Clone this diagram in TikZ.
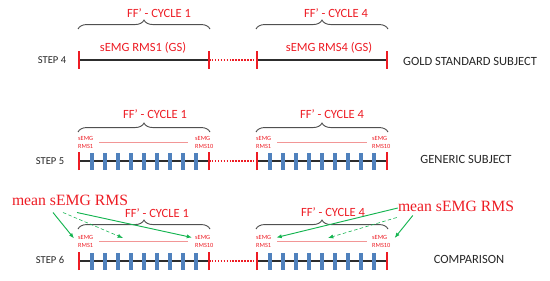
\documentclass[tikz,border=0pt]{standalone}
\usepackage{fontspec}
\setmainfont{Carlito}
\newfontfamily\meanfont{Liberation Serif}
\usepackage{xcolor}
\usepackage{tikz}
\usetikzlibrary{arrows.meta, positioning, calc, decorations.pathreplacing}
\definecolor{MarkRed}{RGB}{237, 28, 36}
\definecolor{TickBlue}{RGB}{79, 129, 189}
\definecolor{AxisGray}{RGB}{45, 45, 45}
\definecolor{BraceGray}{RGB}{80, 80, 80}
\definecolor{ThinPink}{RGB}{242, 150, 150}
\definecolor{ArrowGreen}{RGB}{20, 180, 80}

\begin{document}
\begin{tikzpicture}[
        x=0.3mm, y=0.3mm,
        >={Latex[length=4.5pt, width=3.5pt]},
        steplabel/.style={font=\fontsize{9}{10}\selectfont, text=black!85},
        subject/.style={font=\fontsize{10.7}{12}\selectfont, text=black!85},
        cycle/.style={font=\fontsize{10.7}{12}\selectfont, text=MarkRed},
        gslabel/.style={font=\fontsize{10.7}{12}\selectfont, text=MarkRed},
        rmslabel/.style={font=\fontsize{5.4}{6.4}\selectfont, text=MarkRed, align=left, inner sep=0pt},
        meanlabel/.style={font=\meanfont\fontsize{13.4}{15}\selectfont, text=MarkRed, inner sep=0pt},
        axis/.style={AxisGray, line width=1.6pt},
        gap/.style={MarkRed, line width=1.3pt, dash pattern=on 1.3pt off 1.2pt},
        redtick/.style={MarkRed, line width=1.7pt},
        bluetick/.style={TickBlue, line width=3pt},
        thinline/.style={ThinPink, line width=0.5pt},
        cyclebrace/.style={BraceGray, line width=0.8pt, decorate, decoration={brace, amplitude=7.6pt}},
        pointer/.style={->, ArrowGreen, line width=0.8pt},
        weakpointer/.style={pointer, line width=0.5pt, densely dashed}
    ]

    \useasboundingbox (0, 0) rectangle (550, 280);

    % Step labels
    \node[steplabel] (step4) at (52, 220) {STEP 4};
    \node[steplabel] (step5) at (50, 119) {STEP 5};
    \node[steplabel] (step6) at (50, 20) {STEP 6};

    % Subject labels
    \node[subject] (gold) at (470, 219) {GOLD STANDARD SUBJECT};
    \node[subject] (generic) at (466, 121) {GENERIC SUBJECT};
    \node[subject] (compare) at (469, 21) {COMPARISON};

    % Time lines (ends a-b = cycle 1, c-d = cycle 4)
    \foreach \r/\y in {4/220, 5/119, 6/19} {
        \coordinate (a\r) at (79, \y);
        \coordinate (b\r) at (209, \y);
        \coordinate (c\r) at (257, \y);
        \coordinate (d\r) at (387, \y);
        \draw[axis] (a\r) -- (b\r);
        \draw[axis] (c\r) -- (d\r);
        \draw[gap] (b\r) -- (c\r);
    }

    % Blue ticks (RMS windows)
    \foreach \r in {5, 6} {
        \foreach \i in {1, ..., 9} {
            \draw[bluetick] ($(a\r) + (13*\i, -8.5)$) -- ++(0, 17);
            \draw[bluetick] ($(c\r) + (13*\i, -8.5)$) -- ++(0, 17);
        }
    }

    % Red ticks (cycle limits)
    \foreach \r in {4, 5, 6} {
        \foreach \p in {a, b, c, d} {
            \draw[redtick] ($(\p\r) + (0, -9)$) -- ++(0, 18);
        }
    }

    % Braces
    \draw[cyclebrace] (78, 251) -- (210, 251);
    \draw[cyclebrace] (256, 251) -- (388, 251);
    \draw[cyclebrace] (78, 148) -- (210, 148);
    \draw[cyclebrace] (256, 148) -- (388, 148);
    \draw[cyclebrace] (78, 51) -- (210, 51);
    \draw[cyclebrace] (256, 51) -- (388, 51);

    % Cycle labels
    \node[cycle] (cyc4a) at (159, 267) {FF’ - CYCLE 1};
    \node[cycle] (cyc4b) at (336, 267) {FF’ - CYCLE 4};
    \node[cycle] (cyc5a) at (155, 166) {FF’ - CYCLE 1};
    \node[cycle] (cyc5b) at (332, 166) {FF’ - CYCLE 4};
    \node[cycle] (cyc6a) at (157, 67) {FF’ - CYCLE 1};
    \node[cycle] (cyc6b) at (333, 68) {FF’ - CYCLE 4};

    % Gold standard RMS
    \node[gslabel] (gs1) at (143, 232) {sEMG RMS1 (GS)};
    \node[gslabel] (gs4) at (329, 232) {sEMG RMS4 (GS)};

    % Small RMS labels
    \foreach \r/\y in {5/137.5, 6/38.5} {
        \node[rmslabel, anchor=west] (l\r a) at (78, \y) {sEMG\\RMS1};
        \node[rmslabel, anchor=west] (r\r a) at (195, \y) {sEMG\\RMS10};
        \node[rmslabel, anchor=west] (l\r b) at (256, \y) {sEMG\\RMS1};
        \node[rmslabel, anchor=west] (r\r b) at (372, \y) {sEMG\\RMS10};
        \draw[thinline] ($(l\r a.east) + (6, 0.5)$) -- ($(r\r a.west) + (-7, 0.5)$);
        \draw[thinline] ($(l\r b.east) + (6, 0.5)$) -- ($(r\r b.west) + (-5, 0.5)$);
    }

    % Mean sEMG RMS
    \node[meanlabel] (meanL) at (70, 80) {mean sEMG RMS};
    \node[meanlabel] (meanR) at (456, 74) {mean sEMG RMS};

    \coordinate (mid6a) at (123, 42);
    \coordinate (mid6b) at (328, 42);

    \draw[pointer] ($(meanL.south) + (-17, -7)$) -- ($(l6a.north west) + (-4, -3)$);
    \draw[weakpointer] ($(meanL.south) + (-7, -7)$) -- (mid6a);
    \draw[pointer] ($(meanL.south) + (7, -7)$) -- ($(r6a.west) + (-3, 4)$);

    \draw[pointer] ($(meanR.west) + (0, -2)$) -- ($(l6b.east) + (5, 4)$);
    \draw[weakpointer] ($(meanR.south west) + (-1, -6)$) -- (mid6b);
    \draw[pointer] ($(meanR.south west) + (15, -4)$) -- ($(r6b.east) + (4, 3.5)$);

    \end{tikzpicture}
\end{document}
